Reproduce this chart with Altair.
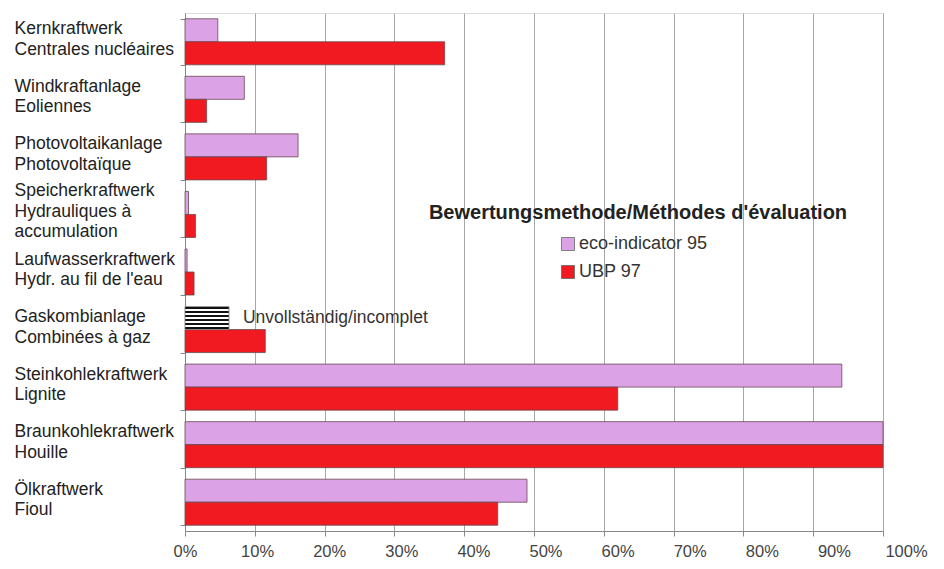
import altair as alt
import pandas as pd

categories = [
    "Kernkraftwerk|Centrales nucléaires",
    "Windkraftanlage|Eoliennes",
    "Photovoltaikanlage|Photovoltaïque",
    "Speicherkraftwerk|Hydrauliques à|accumulation",
    "Laufwasserkraftwerk|Hydr. au fil de l'eau",
    "Gaskombianlage|Combinées à gaz",
    "Steinkohlekraftwerk|Lignite",
    "Braunkohlekraftwerk|Houille",
    "Ölkraftwerk|Fioul",
]
eco_values = [4.7, 8.5, 16.2, 0.5, 0.3, 6.3, 94.1, 100.0, 49.0]
ubp_values = [37.2, 3.1, 11.7, 1.5, 1.3, 11.5, 62.0, 100.0, 44.8]
series_names = ["eco-indicator 95", "UBP 97"]
incomplete_category = "Gaskombianlage|Combinées à gaz"
incomplete_label = "Unvollständig/incomplet"
legend_title = "Bewertungsmethode/Méthodes d'évaluation"
x_ticks = list(range(0, 101, 10))

rows = []
for c, e, u in zip(categories, eco_values, ubp_values):
    rows.append({"cat": c, "series": series_names[0], "value": e,
                 "incomplete": c == incomplete_category})
    rows.append({"cat": c, "series": series_names[1], "value": u,
                 "incomplete": False})
df = pd.DataFrame(rows)

FONT = "Liberation Sans"
ECO = "#dba2e6"
RED = "#f01a20"

# striped (horizontal lines) fill via a sharp-stop linear gradient
stops = []
n = 6
for k in range(n):
    a = k / n + 0.25 / n
    b = k / n + 0.75 / n
    stops += [
        {"offset": a, "color": "#ffffff"},
        {"offset": a, "color": "#111111"},
        {"offset": b, "color": "#111111"},
        {"offset": b, "color": "#ffffff"},
    ]
stripes = {"gradient": "linear", "x1": 0, "y1": 0, "x2": 0, "y2": 1,
           "stops": [{"offset": 0, "color": "#ffffff"}] + stops +
                    [{"offset": 1, "color": "#ffffff"}]}

y_enc = alt.Y(
    "cat:N", sort=categories,
    scale=alt.Scale(paddingInner=0.2, paddingOuter=0.1),
    axis=alt.Axis(
        title=None, labelExpr="split(datum.label, '|')", labelAlign="left",
        labelBaseline="middle", labelPadding=166, labelFontSize=17.5,
        labelLineHeight=20.5, labelColor="#222222", labelFont=FONT,
        labelOffset=alt.ExprRef(
            expr="length(split(datum.value, '|')) == 3 ? -23.5 : -13"),
        tickBand="extent", tickSize=5, tickColor="#888888",
        domainColor="#888888", grid=False,
    ),
)
yoff_enc = alt.YOffset("series:N", sort=series_names,
                       scale=alt.Scale(paddingInner=0, paddingOuter=0))
x_enc = alt.X(
    "value:Q", scale=alt.Scale(domain=[0, 100], nice=False),
    axis=alt.Axis(
        title=None, values=x_ticks, labelExpr="datum.value + '%'",
        labelFontSize=16.5, labelColor="#444444", labelFont=FONT,
        labelPadding=7, labelFlush=False,
        labelOffset=alt.ExprRef(expr="datum.value * 0.23"),
        tickSize=5, tickColor="#888888",
        domainColor="#888888", grid=True, gridColor="#a8a8a8",
        gridWidth=1,
    ),
)

base = alt.Chart(df)

bars = base.transform_filter("!datum.incomplete").mark_bar(
    stroke="#6a4a50", strokeWidth=0.8
).encode(
    y=y_enc, yOffset=yoff_enc, x=x_enc,
    color=alt.Color(
        "series:N", sort=series_names,
        scale=alt.Scale(domain=series_names, range=[ECO, RED]),
        legend=alt.Legend(
            title=None, orient="none", legendX=374, legendY=222,
            symbolType="square", symbolSize=169, symbolStrokeColor="#666666",
            symbolStrokeWidth=0.8, labelFontSize=18, labelFont=FONT,
            labelColor="#333333", rowPadding=10, labelOffset=2,
        ),
    ),
)

striped = base.transform_filter("datum.incomplete").mark_bar(
    fill=stripes, stroke="#777777", strokeWidth=0.8
).encode(y=y_enc, yOffset=yoff_enc, x=x_enc)

note = base.transform_filter("datum.incomplete").mark_text(
    text=incomplete_label, align="left", baseline="middle", dx=14,
    fontSize=17.5, font=FONT, color="#333333"
).encode(y=y_enc, yOffset=yoff_enc, x=x_enc)

title_df = pd.DataFrame({"t": [legend_title]})
title = alt.Chart(title_df).mark_text(
    align="center", baseline="middle", fontSize=20, fontWeight="bold",
    font=FONT, color="#222222"
).encode(text="t:N", x=alt.value(453), y=alt.value(200))

chart = alt.layer(bars, striped, note, title).properties(
    width=698, height=518,
    autosize=alt.AutoSizeParams(type="none"),
    padding={"left": 177, "top": 5, "right": 50, "bottom": 30},
).configure_view(stroke="#a0a0a0").configure(background="white")

chart.save("out.html", embed_options={"renderer": "svg", "actions": False})
